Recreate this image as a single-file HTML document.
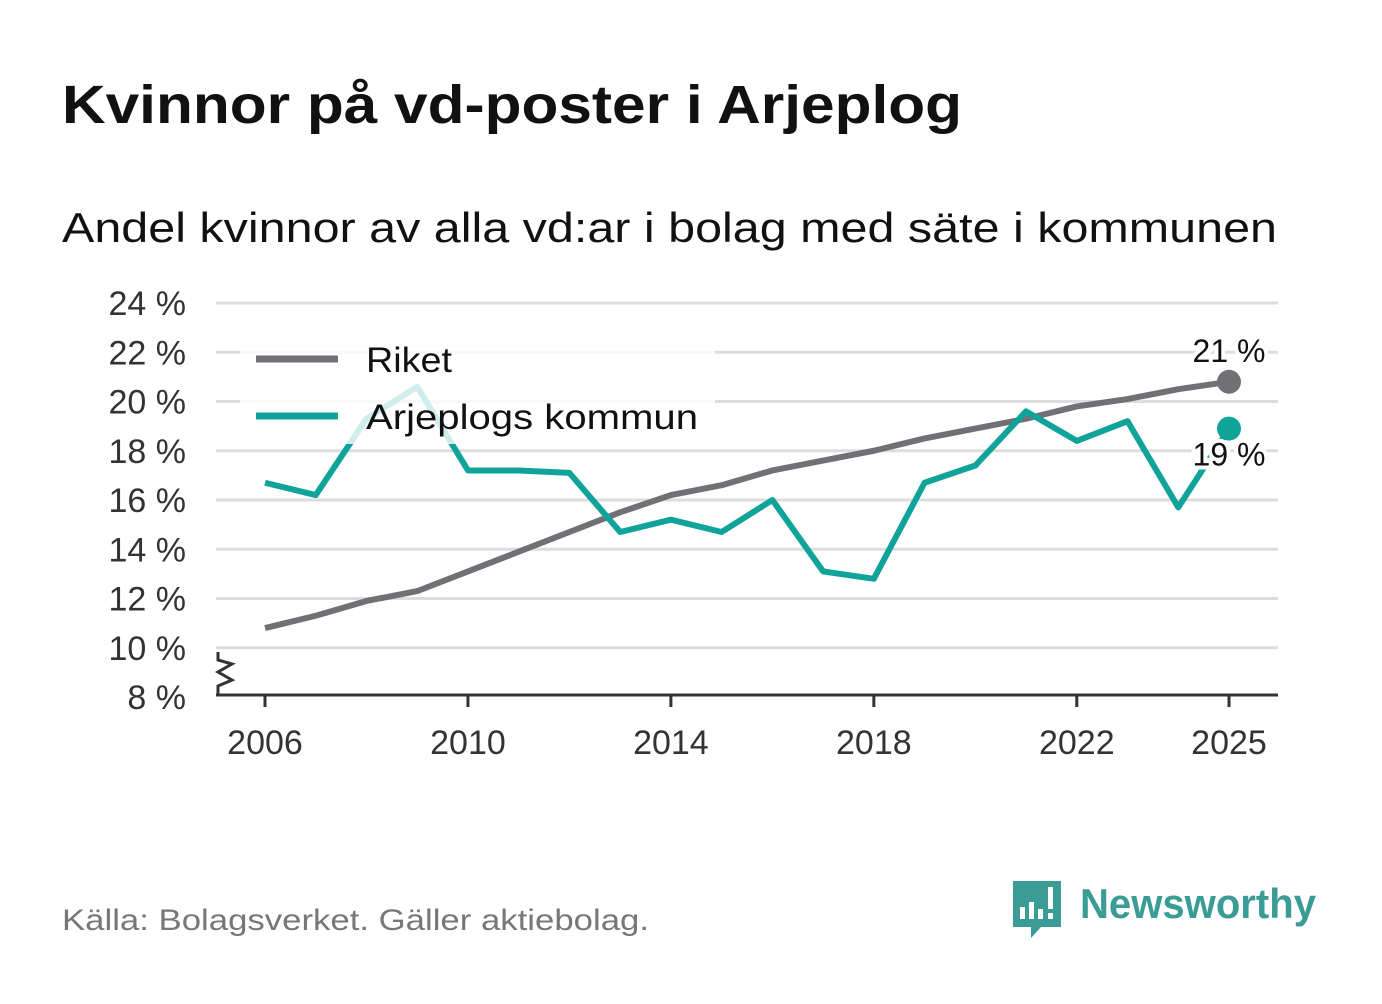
<!DOCTYPE html>
<html><head><meta charset="utf-8"><style>
body{margin:0;background:#fff;width:1382px;height:999px;overflow:hidden;font-family:"Liberation Sans",sans-serif}
</style></head><body>
<svg width="1382" height="999" xmlns="http://www.w3.org/2000/svg">
<text x="62" y="123" font-size="54" font-weight="bold" fill="#111" textLength="900" lengthAdjust="spacingAndGlyphs">Kvinnor på vd-poster i Arjeplog</text>
<text x="62" y="242" font-size="42" fill="#111" textLength="1215" lengthAdjust="spacingAndGlyphs">Andel kvinnor av alla vd:ar i bolag med säte i kommunen</text>
<g id="grid"></g><g id="lines"></g>
<g>
<rect x="240" y="332" width="475" height="112" fill="#fff" opacity="0.8"/>
<line x1="256" y1="359" x2="338" y2="359" stroke="#717075" stroke-width="7"/>
<text x="366" y="372" font-size="35" fill="#111" textLength="86" lengthAdjust="spacingAndGlyphs">Riket</text>
<line x1="256" y1="416" x2="338" y2="416" stroke="#10a39a" stroke-width="7"/>
<text x="366" y="429" font-size="35" fill="#111" textLength="332" lengthAdjust="spacingAndGlyphs">Arjeplogs kommun</text>
</g>
<g id="ends"></g>
<text x="62" y="930" font-size="30" fill="#777" textLength="587" lengthAdjust="spacingAndGlyphs">Källa: Bolagsverket. Gäller aktiebolag.</text>
<g>
<path d="M1013 881h48v46h-20l-10 11v-11h-18z" fill="#3a9c94"/>
<rect x="1020" y="907" width="5" height="12" fill="#fff"/><rect x="1029" y="902" width="5" height="17" fill="#fff"/><rect x="1038" y="909" width="5" height="10" fill="#fff"/><rect x="1048" y="887" width="5" height="22" fill="#fff"/><rect x="1048" y="913" width="5" height="6" fill="#fff"/>
<text x="1080" y="918" font-size="42" font-weight="bold" fill="#3a9c94" textLength="236" lengthAdjust="spacingAndGlyphs">Newsworthy</text>
</g>
</svg>
<script>
const years=[2006,2007,2008,2009,2010,2011,2012,2013,2014,2015,2016,2017,2018,2019,2020,2021,2022,2023,2024,2025];
const riket=[10.8,11.3,11.9,12.3,13.1,13.9,14.7,15.5,16.2,16.6,17.2,17.6,18.0,18.5,18.9,19.3,19.8,20.1,20.5,20.8];
const arjeplog=[16.7,16.2,19.3,20.6,17.2,17.2,17.1,14.7,15.2,14.7,16.0,13.1,12.8,16.7,17.4,19.6,18.4,19.2,15.7,18.9];
const yTicks=[8,10,12,14,16,18,20,22,24];
const xTicks=[2006,2010,2014,2018,2022,2025];
const NS="http://www.w3.org/2000/svg";
const X=v=>265+(v-2006)*(1229-265)/19;
const Y=v=>697-(v-8)*(697-303)/16;
function mk(t,a,p){const e=document.createElementNS(NS,t);for(const k in a)e.setAttribute(k,a[k]);p.appendChild(e);return e;}
const g=document.getElementById('grid'),L=document.getElementById('lines'),E=document.getElementById('ends');
yTicks.forEach(v=>{
 if(v>8){const l=mk('line',{x1:216,x2:1278,y1:Y(v),y2:Y(v),stroke:'#ddd','stroke-width':3},g);
 
 }
 const t=mk('text',{x:186,y:Y(v)+12,'font-size':34,'text-anchor':'end',fill:'#333'},g);t.textContent=v+' %';
 
 
});
mk('line',{x1:216,x2:1278,y1:695,y2:695,stroke:'#333','stroke-width':3},g);
mk('path',{d:'M218 652v8l14 4-14 8 14 8-14 6v10',fill:'none',stroke:'#333','stroke-width':3},g);
xTicks.forEach(v=>{
 mk('line',{x1:X(v),x2:X(v),y1:695,y2:707,stroke:'#333','stroke-width':3},g);
 const t=mk('text',{x:X(v),y:754,'font-size':34,'text-anchor':'middle',fill:'#333'},g);t.textContent=v;
 
 
});
function line(d,c,n){const p=mk('polyline',{points:d.map((v,i)=>X(years[i])+','+Y(v)).join(' '),fill:'none',stroke:c,'stroke-width':6,'stroke-linejoin':'round'},L);
 
 }
line(riket,'#717075','riket-line');
line(arjeplog,'#10a39a','arjeplog-line');
const n=years.length-1;
mk('circle',{cx:X(years[n]),cy:Y(riket[n]),r:12,fill:'#717075'},E);
mk('circle',{cx:X(years[n]),cy:Y(arjeplog[n]),r:12,fill:'#10a39a'},E);
const t1=mk('text',{x:X(years[n]),y:Y(riket[n])-20,'font-size':32,'text-anchor':'middle',fill:'#111',stroke:'#fff','stroke-width':8,'paint-order':'stroke'},E);t1.textContent=Math.round(riket[n])+' %';


const t2=mk('text',{x:X(years[n]),y:Y(arjeplog[n])+37,'font-size':32,'text-anchor':'middle',fill:'#111',stroke:'#fff','stroke-width':8,'paint-order':'stroke'},E);t2.textContent=Math.round(arjeplog[n])+' %';


</script>
</body></html>
